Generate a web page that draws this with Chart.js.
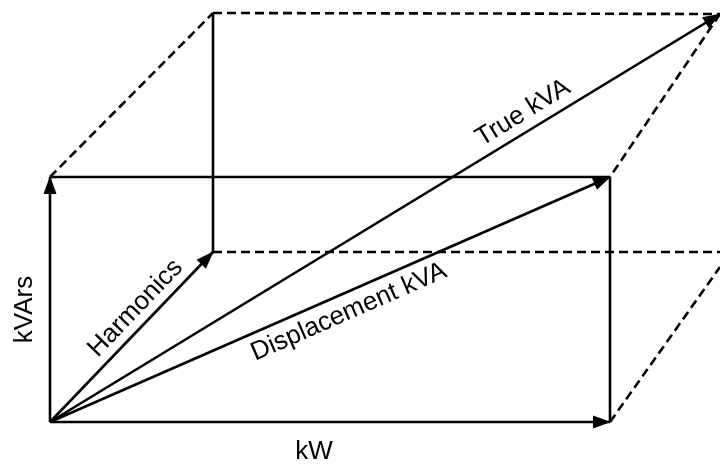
<!DOCTYPE html>
<html>
<head>
<meta charset="utf-8">
<script src="https://cdn.jsdelivr.net/npm/chart.js@4.4.1/dist/chart.umd.min.js"></script>
<style>
  html, body { margin: 0; padding: 0; background: #fff; }
  #wrap { width: 720px; height: 468px; }
</style>
</head>
<body>
<div id="wrap"><canvas id="chart" width="720" height="468"></canvas></div>
<script>
// corner points of the power box (kW along x, kVArs along y)
const pointNames = ['O', 'kW', 'kVArs', 'D', 'H', 'Hup', 'T', 'backLow', 'backMid'];
const pointX = [0, 560, 0, 560, 163, 163, 670, 670, 670];
const pointY = [0, 0, 245, 245, 170, 409, 408, 155, 170];

// vectors drawn with an arrow head at the end
const arrowEdges = [['O', 'kW'], ['O', 'kVArs'], ['O', 'H'], ['O', 'D'], ['O', 'T']];
const solidEdges = [['kVArs', 'D'], ['D', 'kW'], ['H', 'Hup']];
const dashedEdges = [['kVArs', 'Hup'], ['Hup', 'T'], ['T', 'D'], ['H', 'backMid'], ['kW', 'backLow']];

// labels along vectors: [text, from, to, position along, offset from line]
const vectorLabels = [
  ['Harmonics', 'O', 'H', 0.6, -17],
  ['Displacement kVA', 'O', 'D', 0.52, 19],
  ['True kVA', 'O', 'T', 0.72, -18],
];

const pt = name => {
  const i = pointNames.indexOf(name);
  return { x: pointX[i], y: pointY[i] };
};

const FONT = '26px "Liberation Sans", Arial, sans-serif';

const datasets = [];
arrowEdges.forEach(([a, b]) => datasets.push({ data: [pt(a), pt(b)], arrow: true }));
solidEdges.forEach(([a, b]) => datasets.push({ data: [pt(a), pt(b)] }));
dashedEdges.forEach(([a, b]) => datasets.push({ data: [pt(a), pt(b)], borderDash: [9, 5] }));
datasets.forEach(ds => {
  ds.showLine = true;
  ds.borderColor = '#000';
  ds.borderWidth = 2.6;
  ds.pointRadius = 0;
  ds.fill = false;
});

const arrowHeads = {
  id: 'arrowHeads',
  afterDatasetsDraw(chart) {
    const ctx = chart.ctx;
    ctx.save();
    ctx.fillStyle = '#000';
    chart.data.datasets.forEach((ds, i) => {
      if (!ds.arrow) return;
      const pts = chart.getDatasetMeta(i).data;
      const p0 = pts[0], p1 = pts[1];
      const ang = Math.atan2(p1.y - p0.y, p1.x - p0.x);
      const len = 17, half = 6.5;
      ctx.save();
      ctx.translate(p1.x, p1.y);
      ctx.rotate(ang);
      ctx.beginPath();
      ctx.moveTo(1, 0);
      ctx.lineTo(-len, -half);
      ctx.lineTo(-len, half);
      ctx.closePath();
      ctx.fill();
      ctx.restore();
    });
    ctx.restore();
  }
};

const diagramText = {
  id: 'diagramText',
  afterDraw(chart) {
    const ctx = chart.ctx;
    const xs = chart.scales.x, ys = chart.scales.y;
    const px = p => ({ x: xs.getPixelForValue(p.x), y: ys.getPixelForValue(p.y) });
    ctx.save();
    ctx.font = FONT;
    ctx.fillStyle = '#000';
    ctx.textAlign = 'center';
    ctx.textBaseline = 'middle';
    vectorLabels.forEach(([text, a, b, t, off]) => {
      const p0 = px(pt(a)), p1 = px(pt(b));
      const ang = Math.atan2(p1.y - p0.y, p1.x - p0.x);
      const cx = p0.x + (p1.x - p0.x) * t - Math.sin(ang) * off;
      const cy = p0.y + (p1.y - p0.y) * t + Math.cos(ang) * off;
      ctx.save();
      ctx.translate(cx, cy);
      ctx.rotate(ang);
      ctx.fillText(text, 0, 0);
      ctx.restore();
    });
    // axis names
    const o = px(pt('O')), w = px(pt('kW')), v = px(pt('kVArs'));
    ctx.fillText('kW', (o.x + w.x) / 2 - 16, o.y + 30);
    ctx.save();
    ctx.translate(o.x - 25, (o.y + v.y) / 2 + 10);
    ctx.rotate(-Math.PI / 2);
    ctx.fillText('kVArs', 0, 0);
    ctx.restore();
    ctx.restore();
  }
};

new Chart(document.getElementById('chart'), {
  type: 'scatter',
  data: { datasets },
  options: {
    responsive: false,
    animation: false,
    layout: { padding: 0 },
    plugins: { legend: { display: false }, tooltip: { enabled: false } },
    scales: {
      x: { type: 'linear', min: -50, max: 670, display: false },
      y: { type: 'linear', min: -46, max: 422, display: false }
    }
  },
  plugins: [arrowHeads, diagramText]
});
</script>
</body>
</html>
